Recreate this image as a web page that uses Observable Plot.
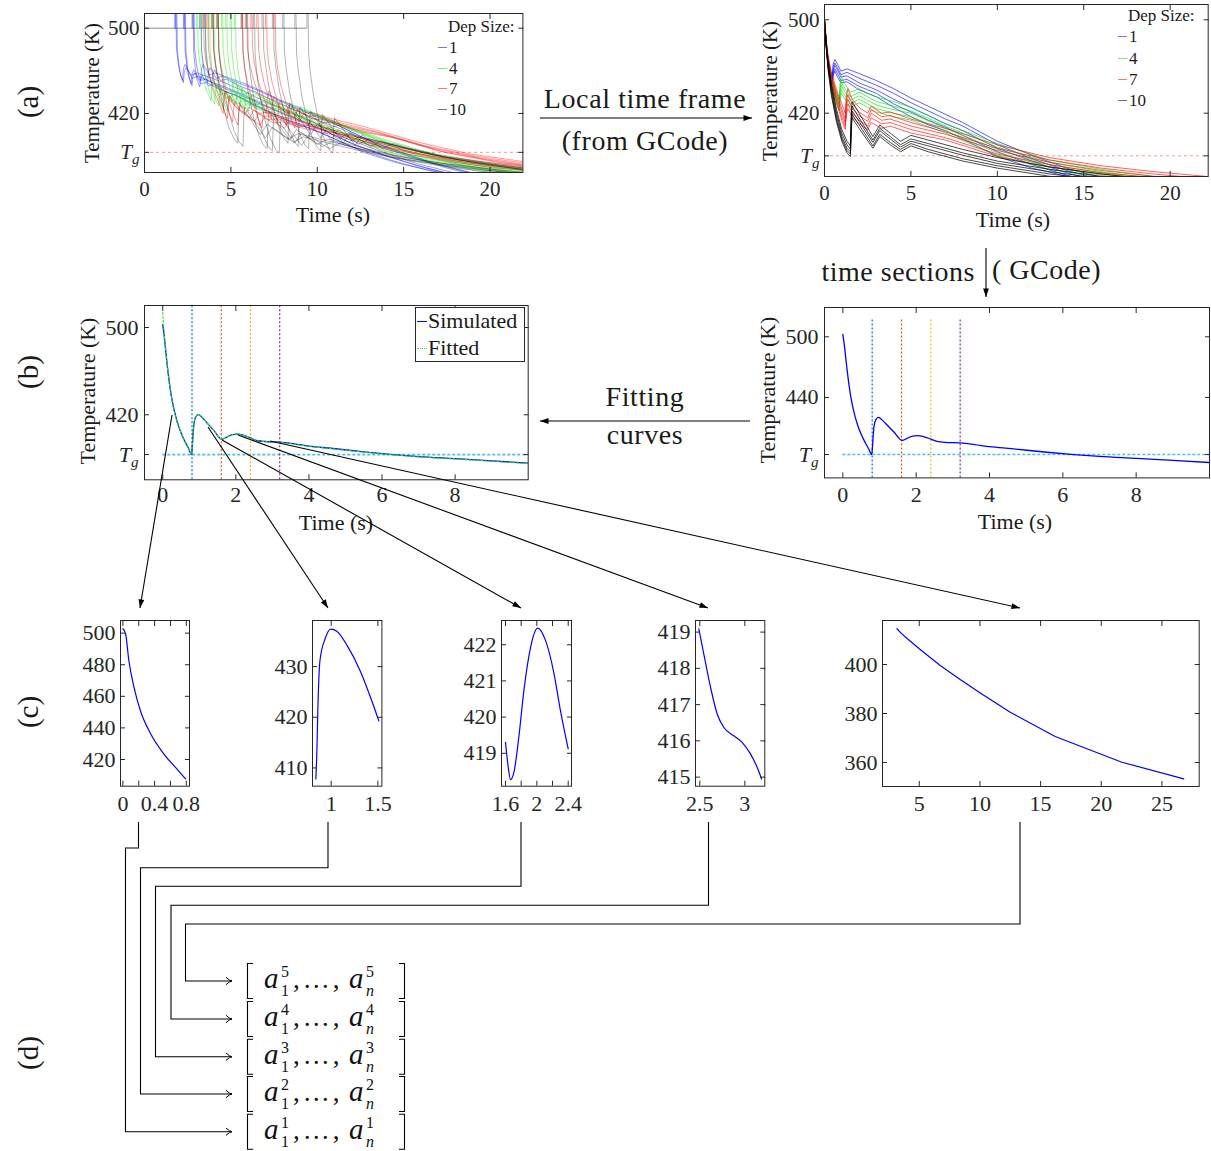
<!DOCTYPE html>
<html><head><meta charset="utf-8">
<script src="https://cdn.jsdelivr.net/npm/d3@7"></script>
<script src="https://cdn.jsdelivr.net/npm/@observablehq/plot@0.6"></script>
<style>
body{margin:0;background:#fff;}
#fig{position:relative;width:1211px;height:1151px;font-family:"Liberation Serif",serif;color:#1a1a1a;overflow:hidden;background:#fff}
.lab{position:absolute;white-space:nowrap;line-height:1;transform:translate(-50%,-50%)}
.vlab{position:absolute;white-space:nowrap;line-height:1;transform:translate(-50%,-50%) rotate(-90deg)}
</style></head><body><div id="fig"></div>
<script>
const Tg = 383.5;

// ---------- (a) local time frame: temperature curves per deposition size ----------
const size1Time = [0, 0.1, 0.2, 0.3, 0.45, 0.5, 0.6, 0.75, 0.95, 1.3, 2, 3, 4, 5, 6, 7, 8, 10, 12, 14, 16];
const size1Curves = [
  [500, 481, 467, 458, 451, 462, 466, 462, 456, 458, 454, 448, 441, 433, 426, 419, 412, 396, 384, 373, 365],
  [500, 480, 465, 456, 449, 459, 463, 459, 453, 455, 450, 444, 437, 429, 422, 415, 409, 393, 381, 371, 363],
  [499, 479, 464, 455, 448, 457, 461, 457, 451, 452, 446, 440, 432, 425, 418, 411, 405, 390, 379, 369, 361],
  [499, 478, 462, 453, 446, 454, 458, 454, 448, 449, 443, 437, 428, 421, 414, 408, 401, 387, 376, 367, 360],
  [498, 477, 461, 451, 445, 452, 456, 451, 446, 447, 440, 434, 425, 417, 410, 405, 398, 383, 373, 366, 359]
];
const size4Time = [0, 0.1, 0.2, 0.4, 0.6, 0.85, 0.9, 0.97, 1.1, 1.5, 2, 2.5, 3, 4, 5, 7, 10, 13, 16, 19];
const size4Curves = [
  [500, 482, 468, 452, 441, 432, 445, 451, 447, 438, 441, 437, 434, 430, 425, 411, 394, 380, 372, 366],
  [500, 481, 466, 450, 438, 429, 441, 447, 443, 434, 438, 434, 430, 426, 422, 409, 391, 378, 370, 364],
  [499, 480, 465, 448, 436, 427, 438, 444, 440, 431, 435, 431, 427, 423, 420, 407, 389, 376, 369, 363],
  [499, 479, 463, 446, 433, 424, 435, 440, 437, 428, 432, 428, 424, 420, 417, 405, 386, 374, 367, 361],
  [498, 478, 462, 444, 431, 422, 432, 437, 434, 425, 429, 425, 421, 417, 414, 403, 384, 372, 365, 359]
];
const size7Time = [0, 0.1, 0.2, 0.4, 0.7, 1.0, 1.2, 1.27, 1.35, 1.6, 2, 2.5, 2.7, 3.3, 3.8, 5, 7, 10, 13, 16, 19, 22];
const size7Curves = [
  [500, 483, 470, 455, 440, 428, 420, 436, 441, 432, 425, 420, 426, 420, 421, 415, 407, 393, 382, 375, 370, 366],
  [500, 482, 468, 452, 437, 424, 415, 431, 436, 428, 421, 416, 423, 417, 418, 412, 404, 390, 380, 373, 368, 364],
  [499, 481, 467, 450, 434, 421, 412, 427, 432, 424, 418, 413, 420, 414, 415, 409, 402, 388, 378, 371, 366, 363],
  [499, 480, 465, 448, 431, 417, 409, 423, 428, 420, 414, 409, 416, 411, 412, 406, 399, 385, 376, 369, 365, 361],
  [498, 479, 463, 446, 429, 414, 406, 419, 424, 417, 411, 406, 412, 407, 409, 403, 397, 383, 374, 368, 363, 360]
];
const size10Time = [0, 0.1, 0.2, 0.4, 0.7, 1.0, 1.3, 1.5, 1.55, 1.6, 2.0, 2.8, 3.2, 3.8, 4.4, 5.0, 6, 8, 10, 13, 16, 19];
const size10Curves = [
  [500, 480, 466, 445, 423, 406, 396, 392, 420, 430, 420, 400, 410, 403, 396, 401, 397, 389, 382, 374, 368, 363],
  [500, 479, 464, 442, 420, 403, 393, 389, 416, 426, 416, 397, 407, 400, 393, 398, 394, 386, 379, 372, 366, 361],
  [499, 478, 462, 440, 417, 400, 390, 387, 412, 422, 413, 395, 405, 398, 391, 396, 392, 384, 377, 370, 364, 359],
  [499, 477, 460, 437, 414, 398, 388, 385, 409, 419, 410, 392, 402, 395, 389, 394, 389, 381, 375, 368, 363, 358],
  [498, 476, 458, 435, 412, 396, 386, 383, 406, 416, 407, 390, 400, 393, 387, 392, 387, 379, 373, 366, 361, 357]
];
// global deposition start times (s) of the layers in the part-level time frame
const size1Start = [1.75, 1.8, 2.25, 2.3, 2.75, 2.8, 3.2, 3.45];
const size4Start = [3.0, 3.2, 3.45, 3.7, 3.95, 4.2, 4.45, 4.7, 4.95, 5.2];
const size7Start = [3.35, 3.6, 3.9, 4.2, 5.6, 5.85, 6.15, 6.5, 7.0, 7.5];
const size10Start = [3.9, 4.2, 5.6, 5.9, 6.3, 6.8, 7.4, 8.0, 8.7, 9.4];
const initialTemp = 500;
const depSizes = ["1", "4", "7", "10"];
const depColors = ["#0000ff", "#00e000", "#ff0000", "#000000"];

// ---------- (b) simulated / fitted curve of one layer ----------
const simTime = [0, 0.04, 0.08, 0.12, 0.17, 0.22, 0.3, 0.4, 0.5, 0.6, 0.7, 0.79, 0.82, 0.85, 0.9, 0.97, 1.05, 1.2, 1.4, 1.62, 1.75, 1.9, 2.05, 2.2, 2.4, 2.6, 2.8, 3.2, 3.6, 4, 4.6, 5.5, 6.3, 7, 8, 9, 10];
const simTemp = [502.5, 492, 479, 466, 452, 440, 426, 413, 403.5, 396, 389.5, 383.5, 398, 411, 418, 420.2, 418.5, 413, 405.5, 397.5, 399.5, 401.8, 402.3, 401.3, 398.8, 396.2, 395.5, 395, 393.3, 391.3, 389.3, 386, 383.5, 381.7, 379.8, 377.8, 375.6];
const fitTemp = [514, 494, 479.5, 466, 452, 440, 426, 413, 403.5, 396, 389.5, 383.8, 397, 410.5, 418, 420.2, 418.5, 413, 405.5, 397.7, 399.5, 401.8, 402.3, 401.3, 398.8, 396.2, 395.5, 394.8, 393, 391, 389, 385.8, 383.3, 381.4, 379.5, 377.4, 375.2];
const sectionTimes = [0.8, 1.6, 2.4, 3.2];
const sectionColors = ["#0072BD", "#D95319", "#EDB120", "#7E2F8E"];

// ---------- (c) the five time sections ----------
const sec1Time = [0, 0.034, 0.075, 0.14, 0.22, 0.35, 0.515, 0.68, 0.79];
const sec1Temp = [502.8, 499.6, 482.7, 465.8, 451, 436.3, 423.6, 414.1, 407.8];
const sec2Time = [0.836, 0.847, 0.857, 0.88, 0.935, 0.996, 1.06, 1.17, 1.31, 1.42, 1.51];
const sec2Temp = [407.8, 413.4, 421.3, 431.2, 435.5, 437.4, 437, 434.2, 429.2, 424, 419.3];
const sec3Time = [1.6, 1.63, 1.665, 1.71, 1.77, 1.835, 1.92, 2.01, 2.11, 2.22, 2.3, 2.4];
const sec3Temp = [419.3, 418.7, 418.27, 418.5, 419.45, 420.74, 421.93, 422.46, 422.12, 421.19, 420.19, 419.12];
const sec4Time = [2.489, 2.544, 2.619, 2.693, 2.767, 2.878, 2.97, 3.063, 3.137, 3.186];
const sec4Temp = [419.09, 418.4, 417.48, 416.74, 416.37, 416.14, 415.96, 415.64, 415.27, 414.95];
const sec5Time = [3.16, 3.5, 4, 5, 6.7, 8.4, 10, 12.5, 16.2, 21.7, 26.8];
const sec5Temp = [414.6, 412.8, 410.6, 406.4, 399.7, 393.8, 388.5, 380.5, 370.6, 360.1, 353.3];

// ================= rendering =================
const fig = document.getElementById("fig");
const NS = "http://www.w3.org/2000/svg";
const INK = "#262626";

function place(el, x, y) { el.style.position = "absolute"; el.style.left = x + "px"; el.style.top = y + "px"; fig.appendChild(el); }
function label(text, cx, cy, size, cls = "lab", extra = "") {
  const d = document.createElement("div"); d.className = cls; d.textContent = text;
  d.style.left = cx + "px"; d.style.top = cy + "px"; d.style.fontSize = size + "px";
  if (extra) d.style.cssText += extra;
  fig.appendChild(d); return d;
}
function fixTg(svg) {
  svg.querySelectorAll("text").forEach(t => {
    if (t.textContent === "Tg") {
      t.textContent = "";
      const a = document.createElementNS(NS, "tspan"); a.textContent = "T"; a.setAttribute("font-style", "italic");
      const b = document.createElementNS(NS, "tspan"); b.textContent = "g"; b.setAttribute("font-style", "italic");
      b.setAttribute("font-size", "15"); b.setAttribute("dy", "5");
      t.append(a, b);
    }
  });
}
const fmt = d => d === Tg ? "Tg" : String(d);

function panel({box, xDomain, yDomain, xTicks, xLabels, yTicks, yLabels, marks, fs = 22, xPad = 9, yPad = 5}) {
  const [x0, y0, x1, y1] = box;
  const mL = 70, mR = 20, mT = 20, mB = 45;
  const svg = Plot.plot({
    width: (x1 - x0) + mL + mR, height: (y1 - y0) + mT + mB,
    marginLeft: mL, marginRight: mR, marginTop: mT, marginBottom: mB,
    x: {domain: xDomain}, y: {domain: yDomain},
    style: {background: "transparent", fontFamily: "Liberation Serif, serif", fontSize: fs + "px", color: INK, overflow: "visible"},
    marks: [
      ...marks,
      Plot.frame({stroke: INK, strokeWidth: 1}),
      Plot.axisX(xTicks, {anchor: "bottom", tickSize: -5, tickFormat: () => "", label: null}),
      Plot.axisX(xTicks, {anchor: "top", tickSize: -5, tickFormat: () => "", label: null}),
      Plot.axisX(xLabels ?? xTicks, {anchor: "bottom", tickSize: 0, tickPadding: xPad, tickFormat: fmt, label: null}),
      Plot.axisY(yTicks, {anchor: "left", tickSize: -5, tickFormat: () => "", label: null}),
      Plot.axisY(yTicks, {anchor: "right", tickSize: -5, tickFormat: () => "", label: null}),
      Plot.axisY(yLabels ?? yTicks, {anchor: "left", tickSize: 0, tickPadding: yPad, tickFormat: fmt, label: null})
    ]
  });
  place(svg, x0 - mL, y0 - mT);
  fixTg(svg);
  return svg;
}

// ---- (a) data tables ----
const sizeTimes = [size1Time, size4Time, size7Time, size10Time];
const sizeCurves = [size1Curves, size4Curves, size7Curves, size10Curves];
const sizeStarts = [size1Start, size4Start, size7Start, size10Start];

function localRows(s) {
  const rows = [];
  sizeCurves[s].forEach((c, i) => c.forEach((v, k) => rows.push({id: i, t: sizeTimes[s][k], T: v})));
  return rows;
}
function globalRows(s) {
  const rows = [];
  sizeStarts[s].forEach((st, j) => {
    const c = sizeCurves[s][j % sizeCurves[s].length];
    rows.push({id: j, t: st, T: initialTemp}, {id: j, t: st, T: 600});
    c.forEach((v, k) => { if (k > 0) rows.push({id: j, t: st + sizeTimes[s][k], T: v}); });
  });
  return rows;
}
const lastStart = d3.max(sizeStarts.flat());
const tgRuleA = Plot.ruleY([Tg], {stroke: "#eb9f90", strokeDasharray: "3,3", strokeWidth: 1});

// (a) left: global time
panel({
  box: [144.3, 13.3, 522.7, 172.3], xDomain: [0, 21.9], yDomain: [364.6, 513.8],
  xTicks: [0, 5, 10, 15, 20], yTicks: [Tg, 420, 500], fs: 21, xPad: 9, yPad: 5,
  marks: [tgRuleA,
    Plot.ruleY([initialTemp], {x1: 0, x2: lastStart, stroke: "#8a8a8a", strokeWidth: 1}),
    ...[0, 1, 2, 3].map(s => Plot.line(globalRows(s), {x: "t", y: "T", z: "id", stroke: depColors[s], strokeWidth: 0.8, strokeOpacity: s === 3 ? 0.38 : 0.5, clip: true}))]
});
// (a) right: local time
panel({
  box: [824.3, 4, 1208, 176], xDomain: [0, 22.2], yDomain: [365.8, 513.1],
  xTicks: [0, 5, 10, 15, 20], yTicks: [Tg, 420, 500], fs: 21, xPad: 9, yPad: 5,
  marks: [tgRuleA, ...[0, 1, 2, 3].map(s => Plot.line(localRows(s), {x: "t", y: "T", z: "id", stroke: depColors[s], strokeWidth: 0.9, strokeOpacity: s === 3 ? 0.8 : 0.7, clip: true}))]
});

// ---- (b) ----
const simRows = simTime.map((t, i) => ({t, T: simTemp[i]}));
const fitRows = simTime.map((t, i) => ({t, T: fitTemp[i]}));
const secRows = sectionTimes.map((t, i) => ({t, c: sectionColors[i]}));
function sectionMarks(top, bottom) {
  return secRows.map(r => Plot.ruleX([r.t], {y1: bottom, y2: top, stroke: r.c, strokeDasharray: "2,2", strokeWidth: 1.2}));
}
const tgRuleB = Plot.ruleY([Tg], {x1: 0, x2: 10, stroke: "#4DBEEE", strokeDasharray: "3,2", strokeWidth: 1.6});
panel({
  box: [144, 304.7, 527.7, 479], xDomain: [-0.5, 10], yDomain: [360.4, 520.2],
  xTicks: [0, 2, 4, 6, 8], yTicks: [Tg, 420, 500], xPad: 7, yPad: 6,
  marks: [tgRuleB, ...sectionMarks(520.2, 360.4),
    Plot.line(simRows, {x: "t", y: "T", stroke: "#0000ff", strokeWidth: 1.3, curve: "monotone-x", clip: true}),
    Plot.line(fitRows, {x: "t", y: "T", stroke: "#22e622", strokeWidth: 1.1, strokeDasharray: "2,2", curve: "monotone-x", clip: true})]
});
panel({
  box: [824, 307.3, 1209, 477.7], xDomain: [-0.5, 10], yDomain: [360.4, 529],
  xTicks: [0, 2, 4, 6, 8], yTicks: [Tg, 440, 500], xPad: 8, yPad: 6,
  marks: [tgRuleB, ...sectionMarks(518, 360.4),
    Plot.line(simRows, {x: "t", y: "T", stroke: "#0000ff", strokeWidth: 1.3, curve: "monotone-x", clip: true})]
});

// ---- (c) ----
const secs = [
  {time: sec1Time, temp: sec1Temp, box: [120, 620, 189, 785.7], xd: [-0.03, 0.84], yd: [403.1, 508], xt: [0, 0.2, 0.4, 0.6, 0.8], xl: [0, 0.4, 0.8], yt: [420, 440, 460, 480, 500], curve: "monotone-x"},
  {time: sec2Time, temp: sec2Temp, box: [312.3, 620, 381.7, 785.7], xd: [0.8, 1.543], yd: [406.4, 439.1], xt: [1, 1.5], xl: [1, 1.5], yt: [410, 420, 430], curve: "monotone-x"},
  {time: sec3Time, temp: sec3Temp, box: [501, 620, 571, 785.7], xd: [1.549, 2.442], yd: [418.09, 422.67], xt: [1.6, 1.8, 2, 2.2, 2.4], xl: [1.6, 2, 2.4], yt: [419, 420, 421, 422], curve: "monotone-x"},
  {time: sec4Time, temp: sec4Temp, box: [695, 620, 764.3, 785.7], xd: [2.452, 3.222], yd: [414.75, 419.32], xt: [2.5, 3], xl: [2.5, 3], yt: [415, 416, 417, 418, 419], curve: "monotone-x"},
  {time: sec5Time, temp: sec5Temp, box: [882.3, 620, 1199, 786], xd: [1.97, 28.07], yd: [350.2, 417.96], xt: [5, 10, 15, 20, 25], xl: [5, 10, 15, 20, 25], yt: [360, 380, 400], curve: "linear"}
];
secs.forEach(s => {
  const rows = s.time.map((t, i) => ({t, T: s.temp[i]}));
  panel({box: s.box, xDomain: s.xd, yDomain: s.yd, xTicks: s.xt, xLabels: s.xl, yTicks: s.yt, xPad: 9, yPad: 5,
    marks: [Plot.line(rows, {x: "t", y: "T", stroke: "#0000ff", strokeWidth: 1.2, curve: s.curve, clip: true})]});
});

// ---- axis titles ----
label("Time (s)", 333, 215, 22); label("Temperature (K)", 92, 93, 21, "vlab");
label("Time (s)", 1013, 220, 22); label("Temperature (K)", 770, 91, 21, "vlab");
label("Time (s)", 336, 523, 22); label("Temperature (K)", 88, 391, 22, "vlab");
label("Time (s)", 1015, 522, 22); label("Temperature (K)", 768, 390, 22, "vlab");
[["(a)", 102], ["(b)", 372], ["(c)", 712], ["(d)", 1053]].forEach(([t, y]) => label(t, 28, y, 29, "vlab"));

// ---- dep size legends ----
function depLegend(x, yTitle, ys) {
  const t = label("Dep Size:", x, yTitle, 17); t.style.transform = "translate(0,-50%)";
  ys.forEach((y, i) => {
    const ln = document.createElement("div");
    ln.style.cssText = `position:absolute;left:${x - 10}px;top:${y}px;width:9px;height:0;border-top:1px solid ${depColors[i]};opacity:0.55`;
    fig.appendChild(ln);
    const e = label(depSizes[i], x + 1, y, 17); e.style.transform = "translate(0,-50%)";
  });
}
depLegend(448, 26, [46.7, 68, 88, 108.7]);
depLegend(1128, 15, [36, 58, 79, 100]);

// ---- (b) legend ----
const lg = document.createElement("div");
lg.style.cssText = "position:absolute;left:415px;top:307px;width:110px;height:55px;border:1px solid #262626;background:#fff;box-sizing:border-box";
fig.appendChild(lg);
const l1 = document.createElement("div"); l1.style.cssText = "position:absolute;left:417px;top:321px;width:10px;height:0;border-top:1.5px solid #0000ff"; fig.appendChild(l1);
const l2 = document.createElement("div"); l2.style.cssText = "position:absolute;left:417px;top:348px;width:10px;height:0;border-top:1.5px dotted #22e622"; fig.appendChild(l2);
let e = label("Simulated", 428, 321, 22); e.style.transform = "translate(0,-50%)";
e = label("Fitted", 428, 348, 22); e.style.transform = "translate(0,-50%)";

// ---- workflow annotations ----
label("Local time frame", 645, 99, 28, "lab", "letter-spacing:0.6px");
label("(from GCode)", 645, 141, 28, "lab", "letter-spacing:0.6px");
label("time sections", 975, 272, 28, "lab", "transform:translate(-100%,-50%);letter-spacing:0.5px");
label("( GCode)", 992, 270, 28, "lab", "transform:translate(0,-50%);letter-spacing:0.5px");
label("Fitting", 645, 397, 28, "lab", "letter-spacing:0.6px");
label("curves", 645, 435, 28, "lab", "letter-spacing:0.6px");

const ov = d3.select(fig).append("svg").attr("width", 1211).attr("height", 1151)
  .style("position", "absolute").style("left", "0").style("top", "0").style("pointer-events", "none")
  .style("font-family", "Liberation Serif, serif").style("overflow", "visible");
function arrow(pts, head = "fill") {
  ov.append("polyline").attr("points", pts.map(p => p.join(",")).join(" ")).attr("fill", "none").attr("stroke", "#000").attr("stroke-width", 1.1);
  const [x1, y1] = pts[pts.length - 2], [x2, y2] = pts[pts.length - 1];
  const a = Math.atan2(y2 - y1, x2 - x1);
  if (head === "fill") {
    const L = 9, w = 0.33;
    ov.append("path").attr("d", `M${x2},${y2} L${x2 - L * Math.cos(a - w)},${y2 - L * Math.sin(a - w)} L${x2 - L * Math.cos(a + w)},${y2 - L * Math.sin(a + w)} Z`).attr("fill", "#000");
  } else {
    const L = 7, w = 0.55;
    ov.append("path").attr("d", `M${x2 - L * Math.cos(a - w)},${y2 - L * Math.sin(a - w)} Q${x2 - 2 * Math.cos(a)},${y2 - 2 * Math.sin(a)} ${x2},${y2} Q${x2 - 2 * Math.cos(a)},${y2 - 2 * Math.sin(a)} ${x2 - L * Math.cos(a + w)},${y2 - L * Math.sin(a + w)}`).attr("fill", "none").attr("stroke", "#000").attr("stroke-width", 1);
  }
}
arrow([[540, 118], [752, 118]]);
arrow([[986, 248], [986, 297]]);
arrow([[750, 421], [540, 421]]);

// (b) -> (c)
const bcStart = [[172, 415], [208, 427], [222, 440], [238, 435], [270, 441]];
const bcEnd = [[140, 608], [328, 608], [521, 608], [708, 608], [1020, 608]];
bcStart.forEach((p, i) => arrow([p, bcEnd[i]]));

// (c) -> (d)
const cdX = [138.5, 328, 521, 708.5, 1020];
const cdElbowY = [848, 867.7, 886.3, 905.3, 924];
const cdBusX = [125.5, 140.5, 155.5, 171, 185.5];
const rowY = [1131.7, 1094, 1056.7, 1019, 981];
cdX.forEach((x, i) => arrow([[x, 822], [x, cdElbowY[i]], [cdBusX[i], cdElbowY[i]], [cdBusX[i], rowY[i]], [232, rowY[i]]], "open"));

// (d) parameter vectors: one text element per row
rowY.forEach((cy, i) => {
  const k = String(i + 1);
  ov.append("path").attr("d", `M253,${cy - 17.5} H247.5 V${cy + 17.5} H253 M399,${cy - 17.5} H404.5 V${cy + 17.5} H399`).attr("fill", "none").attr("stroke", "#000").attr("stroke-width", 1.1);
  const t = ov.append("text").attr("y", cy + 7).attr("font-size", 29).attr("fill", "#111");
  const sp = (x, y, s, txt, it, ls) => { const u = t.append("tspan").attr("x", x).attr("y", y).attr("font-size", s).text(txt); if (it) u.attr("font-style", "italic"); if (ls) u.attr("letter-spacing", ls); };
  sp(264, cy + 7, 29, "a", true);
  sp(281, cy - 4, 16, k, false);
  sp(281, cy + 15, 16, "1", false);
  sp(293, cy + 7, 27, ",…,", false, 3);
  sp(349, cy + 7, 29, "a", true);
  sp(366, cy - 4, 16, k, false);
  sp(366, cy + 15, 16, "n", true);
});
</script></body></html>
